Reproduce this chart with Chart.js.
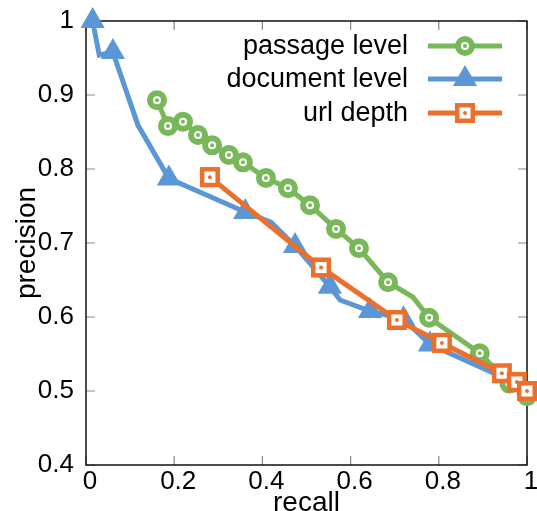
<!DOCTYPE html>
<html>
<head>
<meta charset="utf-8">
<script src="https://cdn.jsdelivr.net/npm/chart.js@4.4.1/dist/chart.umd.min.js"></script>
<style>
  html, body { margin: 0; padding: 0; background: #fff; }
</style>
</head>
<body>
<canvas id="prChart" width="537" height="511"></canvas>
<script>
// precision / recall curves
const passageRecall    = [0.161, 0.186, 0.220, 0.254, 0.286, 0.324, 0.356, 0.408, 0.458, 0.508, 0.567, 0.619, 0.685, 0.741, 0.778, 0.893, 0.960, 1.000];
const passagePrecision = [0.893, 0.858, 0.864, 0.846, 0.832, 0.819, 0.809, 0.788, 0.774, 0.751, 0.719, 0.693, 0.647, 0.627, 0.599, 0.551, 0.510, 0.493];
const passageUnmarked  = [13];

const documentRecall    = [0.015, 0.030, 0.061, 0.118, 0.188, 0.361, 0.420, 0.474, 0.553, 0.576, 0.644, 0.720, 0.780, 0.940, 1.000];
const documentPrecision = [1.000, 0.954, 0.958, 0.859, 0.787, 0.742, 0.728, 0.696, 0.641, 0.623, 0.608, 0.597, 0.563, 0.520, 0.497];
const documentUnmarked  = [1, 3, 6, 9, 13, 14];

const urlRecall    = [0.281, 0.533, 0.705, 0.807, 0.943, 0.977, 1.000];
const urlPrecision = [0.789, 0.667, 0.596, 0.565, 0.524, 0.512, 0.500];

const recallTicks    = [0, 0.2, 0.4, 0.6, 0.8, 1];
const precisionTicks = [0.4, 0.5, 0.6, 0.7, 0.8, 0.9, 1];

const seriesNames = ['passage level', 'document level', 'url depth'];

const FONT = "'Liberation Sans', Arial, Helvetica, sans-serif";
const GREEN = '#78b85a';
const BLUE = '#5b97d6';
const ORANGE = '#ea702c';

function toPoints(xs, ys) {
    return xs.map((x, i) => ({ x: x, y: ys[i] }));
}

const fmt = v => String(+Number(v).toFixed(1));

// frame, inward ticks on all four sides, axis titles, small marker dots, legend
const decorPlugin = {
    id: 'decor',
    beforeDatasetsDraw(chart) {
        const { ctx, chartArea: a, scales } = chart;
        ctx.save();
        ctx.strokeStyle = '#888';
        ctx.lineWidth = 1.2;
        ctx.beginPath();
        recallTicks.forEach(v => {
            const px = scales.x.getPixelForValue(v);
            ctx.moveTo(px, a.bottom); ctx.lineTo(px, a.bottom - 9);
            ctx.moveTo(px, a.top); ctx.lineTo(px, a.top + 9);
        });
        precisionTicks.forEach(v => {
            const py = scales.y.getPixelForValue(v);
            ctx.moveTo(a.left, py); ctx.lineTo(a.left + 9, py);
            ctx.moveTo(a.right, py); ctx.lineTo(a.right - 9, py);
        });
        ctx.stroke();
        ctx.strokeStyle = '#111';
        ctx.lineWidth = 1.5;
        ctx.strokeRect(a.left, a.top, a.right - a.left, a.bottom - a.top);

        ctx.fillStyle = '#000';
        ctx.font = '28px ' + FONT;
        ctx.textAlign = 'center';
        ctx.textBaseline = 'middle';
        ctx.fillText('recall', (a.left + a.right) / 2, 503);
        ctx.translate(27, (a.top + a.bottom) / 2);
        ctx.rotate(-Math.PI / 2);
        ctx.fillText('precision', 0, 0);
        ctx.restore();
    },
    afterDatasetDraw(chart, args) {
        const ds = chart.data.datasets[args.index];
        if (!ds.centerDot) return;
        const ctx = chart.ctx;
        ctx.save();
        ctx.fillStyle = ds.borderColor;
        args.meta.data.forEach(pt => {
            if (pt.options.radius > 0) {
                ctx.beginPath();
                ctx.arc(pt.x, pt.y, 2, 0, Math.PI * 2);
                ctx.fill();
            }
        });
        ctx.restore();
    },
    afterDraw(chart) {
        const ctx = chart.ctx;
        const rows = [46, 79, 113];
        ctx.save();
        ctx.font = '27px ' + FONT;
        ctx.textAlign = 'right';
        ctx.textBaseline = 'middle';
        chart.data.datasets.forEach((ds, i) => {
            const y = rows[i];
            ctx.fillStyle = '#000';
            ctx.fillText(ds.label, 408, y + 1);
            ctx.strokeStyle = ds.borderColor;
            ctx.lineWidth = ds.borderWidth;
            ctx.beginPath();
            ctx.moveTo(428, y); ctx.lineTo(502, y);
            ctx.stroke();
            ctx.fillStyle = ds.pointBackgroundColor;
            ctx.lineWidth = ds.pointBorderWidth;
            Chart.helpers.drawPoint(ctx, {
                pointStyle: ds.pointStyle,
                radius: ds.legendRadius,
                rotation: 0,
                borderWidth: ds.pointBorderWidth
            }, 465, y);
            if (ds.centerDot) {
                ctx.fillStyle = ds.borderColor;
                ctx.beginPath();
                ctx.arc(465, y, 2, 0, Math.PI * 2);
                ctx.fill();
            }
        });
        ctx.restore();
    }
};

const ctx = document.getElementById('prChart').getContext('2d');
new Chart(ctx, {
    type: 'line',
    data: {
        datasets: [
            {
                label: seriesNames[0],
                data: toPoints(passageRecall, passagePrecision),
                borderColor: GREEN,
                borderWidth: 5,
                pointStyle: 'circle',
                pointRadius: c => passageUnmarked.includes(c.dataIndex) ? 0 : 7,
                legendRadius: 7,
                pointBorderWidth: 6,
                pointBorderColor: GREEN,
                pointBackgroundColor: '#fff',
                centerDot: true,
                order: 3,
                clip: false
            },
            {
                label: seriesNames[1],
                data: toPoints(documentRecall, documentPrecision),
                borderColor: BLUE,
                borderWidth: 5,
                pointStyle: 'triangle',
                pointRadius: c => documentUnmarked.includes(c.dataIndex) ? 0 : 12,
                legendRadius: 12,
                pointBorderWidth: 2,
                pointBorderColor: BLUE,
                pointBackgroundColor: BLUE,
                order: 2,
                clip: false
            },
            {
                label: seriesNames[2],
                data: toPoints(urlRecall, urlPrecision),
                borderColor: ORANGE,
                borderWidth: 5,
                pointStyle: 'rect',
                pointRadius: 11,
                legendRadius: 11,
                pointBorderWidth: 4.5,
                pointBorderColor: ORANGE,
                pointBackgroundColor: '#fff',
                centerDot: true,
                order: 1,
                clip: false
            }
        ]
    },
    options: {
        responsive: false,
        animation: false,
        events: [],
        layout: { autoPadding: false, padding: { top: 21, right: 10, left: 0, bottom: 0 } },
        elements: { line: { tension: 0 } },
        plugins: {
            legend: { display: false },
            tooltip: { enabled: false }
        },
        scales: {
            x: {
                type: 'linear',
                min: 0,
                max: 1,
                afterBuildTicks: s => { s.ticks = recallTicks.map(v => ({ value: v })); },
                afterFit: s => { s.height = 46; s.paddingLeft = 0; s.paddingRight = 0; },
                grid: { display: false },
                border: { display: false },
                ticks: {
                    color: '#000',
                    font: { family: FONT, size: 26 },
                    padding: -7,
                    labelOffset: 4,
                    maxRotation: 0,
                    autoSkip: false,
                    callback: fmt
                }
            },
            y: {
                type: 'linear',
                min: 0.4,
                max: 1,
                afterBuildTicks: s => { s.ticks = precisionTicks.map(v => ({ value: v })); },
                afterFit: s => { s.width = 86; s.paddingTop = 0; s.paddingBottom = 0; },
                grid: { display: false },
                border: { display: false },
                ticks: {
                    color: '#000',
                    font: { family: FONT, size: 26 },
                    padding: 4,
                    autoSkip: false,
                    callback: fmt
                }
            }
        }
    },
    plugins: [decorPlugin]
});
</script>
</body>
</html>
